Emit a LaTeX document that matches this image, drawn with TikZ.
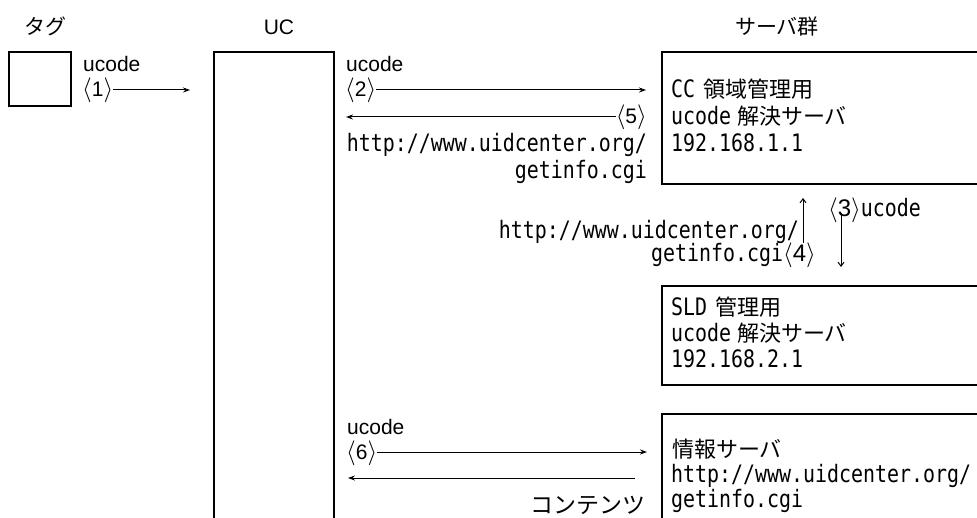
\documentclass[tikz,border=0pt]{standalone}
\usepackage{fontspec}
\usetikzlibrary{arrows.meta}
\newfontfamily\jp{Noto Sans CJK JP}
\newfontfamily\mono[FakeStretch=0.83]{DejaVu Sans Mono}
\newfontfamily\arialf{Liberation Sans}
\newcommand{\lab}[1]{{\fontsize{24}{24}\selectfont\ensuremath{\langle}}#1{\fontsize{24}{24}\selectfont\ensuremath{\rangle}}}
\newcommand{\J}[1]{{\jp\fontsize{22}{26}\selectfont #1}}
\tikzset{
  box/.style={draw, line width=2pt, anchor=north west, inner sep=0pt},
  mt/.style={inner sep=0pt, font=\fontsize{24}{26}\selectfont\mono},
  atx/.style={inner sep=0pt, font=\fontsize{21}{24}\selectfont\arialf},
  jt/.style={inner sep=0pt, font=\fontsize{22}{26}\selectfont\jp},
  hd/.style={inner sep=0pt, anchor=base, font=\fontsize{21}{24}\selectfont},
  arr/.style={line width=1pt, -{Stealth[length=7pt,width=5pt]}},
  varr/.style={line width=1pt, -{Straight Barb[length=4pt,width=6pt]}}
}
\begin{document}
\begin{tikzpicture}[x=1pt,y=-1pt]
\useasboundingbox (0,0) rectangle (977,518);
\clip (0,0) rectangle (977,518);
% headers
\node[hd] (htag) at (45,35) {\jp タグ};
\node[hd] (huc) at (279,35) {\arialf UC};
\node[hd] (hsrv) at (777,35) {\jp サーバ群};
% boxes
\node[box, minimum width=62pt, minimum height=54pt] (tag) at (8,51) {};
\node[box, minimum width=120pt, minimum height=520pt] (uc) at (213,51) {};
\node[box, minimum width=360pt, minimum height=132pt] (s1) at (661,51) {};
\node[box, minimum width=360pt, minimum height=99pt] (s2) at (661,285) {};
\node[box, minimum width=360pt, minimum height=160pt] (s3) at (661,413) {};
% server texts
\node[mt, anchor=base west] (s1a) at (671,98) {CC\hspace{8pt}\J{領域管理用}};
\node[mt, anchor=base west] (s1b) at (671,125) {ucode\hspace{6pt}\J{解決サーバ}};
\node[mt, anchor=base west] (s1c) at (671,152) {192.168.1.1};
\node[mt, anchor=base west] (s2a) at (671,316) {SLD\hspace{8pt}\J{管理用}};
\node[mt, anchor=base west] (s2b) at (671,342) {ucode\hspace{6pt}\J{解決サーバ}};
\node[mt, anchor=base west] (s2c) at (671,368) {192.168.2.1};
\node[jt, anchor=base west] (s3a) at (672,457) {情報サーバ};
\node[mt, anchor=base west] (s3b) at (671,482) {http://www.uidcenter.org/};
\node[mt, anchor=base west] (s3c) at (671,507) {getinfo.cgi};
% step 1
\node[atx, anchor=base west] (u1) at (83,72) {ucode};
\node[atx, anchor=base west] (n1) at (82,97) {\lab{1}};
\coordinate (e1) at (190,90);
\draw[arr] (n1.east |- e1) -- (e1);
% step 2 and 5
\node[atx, anchor=base west] (u2) at (346,72) {ucode};
\node[atx, anchor=base west] (n2) at (345,97) {\lab{2}};
\coordinate (e2) at (646,90);
\draw[arr] (n2.east |- e2) -- (e2);
\node[atx, anchor=base east] (n5) at (647,124) {\lab{5}};
\coordinate (e5) at (346,117);
\draw[arr] (n5.west |- e5) -- (e5);
\node[mt, anchor=base east] (h5a) at (647,152) {http://www.uidcenter.org/};
\node[mt, anchor=base east] (h5b) at (647,179) {getinfo.cgi};
% step 3 and 4
\coordinate (b4) at (803,243);
\coordinate (t4) at (803,198);
\draw[varr] (b4) -- (t4);
\coordinate (b3) at (841,213);
\coordinate (t3) at (841,267);
\draw[varr] (b3) -- (t3);
\node[mt, anchor=base west] (n3) at (828,217) {{\arialf\lab{3}}ucode};
\node[mt, anchor=base east] (h4a) at (799,239) {http://www.uidcenter.org/};
\node[mt, anchor=base east] (h4b) at (816,262) {getinfo.cgi{\arialf\lab{4}}};
% step 6
\node[atx, anchor=base west] (u6) at (347,434) {ucode};
\node[atx, anchor=base west] (n6) at (346,459) {\lab{6}};
\coordinate (e6) at (647,452);
\draw[arr] (n6.east |- e6) -- (e6);
\coordinate (f6) at (635,478);
\coordinate (g6) at (348,478);
\draw[arr] (f6) -- (g6);
\node[jt, anchor=base east, font=\fontsize{23}{26}\selectfont\jp] (ct) at (646,513) {コンテンツ};
\end{tikzpicture}
\end{document}
